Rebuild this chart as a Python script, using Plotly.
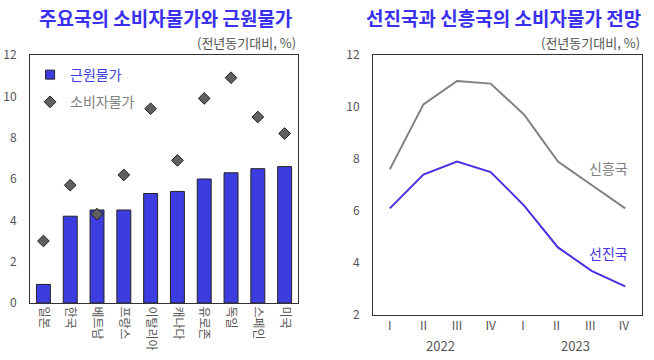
import plotly.graph_objects as go

countries = ["일본", "한국", "베트남", "프랑스", "이탈리아", "캐나다", "유로존", "독일", "스페인", "미국"]
core_cpi = [0.9, 4.2, 4.5, 4.5, 5.3, 5.4, 6.0, 6.3, 6.5, 6.6]
cpi = [3.0, 5.7, 4.3, 6.2, 9.4, 6.9, 9.9, 10.9, 9.0, 8.2]

quarters = ["I", "II", "III", "IV", "I ", "II ", "III ", "IV "]
years = ["2022", "2023"]
emerging = [7.6, 10.1, 11.0, 10.9, 9.7, 7.9, 7.0, 6.1]
advanced = [6.1, 7.4, 7.9, 7.5, 6.2, 4.6, 3.7, 3.1]

FONT = "Noto Sans CJK KR"
BLUE = "#3c3ce0"
TITLE_BLUE = "#3a30ee"
GRAY = "#808080"
LINE_BLUE = "#4a30e0"
TICK = "#555555"

fig = go.Figure()
fig.add_trace(go.Bar(
    x=countries, y=core_cpi, width=0.52,
    marker=dict(color=BLUE, line=dict(color="#222222", width=1)),
    showlegend=False, xaxis="x", yaxis="y"))
fig.add_trace(go.Scatter(
    x=countries, y=cpi, mode="markers",
    marker=dict(symbol="diamond", size=9, color="#606060", line=dict(color="#202020", width=1)),
    showlegend=False, xaxis="x", yaxis="y"))
# legend entries
fig.add_trace(go.Scatter(
    x=[None], y=[None], mode="markers", legendgroup="a",
    marker=dict(symbol="square", size=9, color=BLUE, line=dict(color="#222222", width=1)),
    name="<span style='color:#4040e0'>근원물가</span>", xaxis="x", yaxis="y"))
fig.add_trace(go.Scatter(
    x=[None], y=[None], mode="markers", legendgroup="b",
    marker=dict(symbol="diamond", size=9, color="#606060", line=dict(color="#202020", width=1)),
    name="<span style='color:#808080'>소비자물가</span>", xaxis="x", yaxis="y"))

fig.add_trace(go.Scatter(
    x=quarters, y=emerging, mode="lines", line=dict(color=GRAY, width=2),
    showlegend=False, xaxis="x2", yaxis="y2"))
fig.add_trace(go.Scatter(
    x=quarters, y=advanced, mode="lines", line=dict(color=LINE_BLUE, width=2),
    showlegend=False, xaxis="x2", yaxis="y2"))

axis_common = dict(showline=True, linecolor="#333333", linewidth=1, mirror=True,
                   showgrid=False, zeroline=False, ticks="", automargin=False,
                   tickfont=dict(family=FONT, size=12, color=TICK))

fig.update_layout(
    width=654, height=360,
    margin=dict(l=0, r=0, t=0, b=0),
    paper_bgcolor="white", plot_bgcolor="white",
    font=dict(family=FONT),
    xaxis=dict(domain=[0.0459, 0.4557], anchor="y", tickangle=90, range=[-0.5, 9.5],
               categoryorder="array", categoryarray=countries, **axis_common),
    yaxis=dict(domain=[0.1583, 0.8472], anchor="x", range=[0, 12], dtick=2,
               ticklabelstandoff=10, **axis_common),
    xaxis2=dict(domain=[0.5703, 0.9817], anchor="y2", range=[-0.5, 7.5], **axis_common),
    yaxis2=dict(domain=[0.125, 0.8472], anchor="x2", range=[2, 12], dtick=2,
                ticklabelstandoff=10, **axis_common),
    legend=dict(x=0.046, y=0.836, xanchor="left", yanchor="top", bgcolor="rgba(0,0,0,0)",
                font=dict(family=FONT, size=14), itemsizing="trace", itemwidth=30,
                tracegroupgap=6),
    showlegend=True,
)

ann = [
    dict(text="<b>주요국의 소비자물가와 근원물가</b>", x=165/654, y=1-17/360, font=dict(size=19, color=TITLE_BLUE)),
    dict(text="<b>선진국과 신흥국의 소비자물가 전망</b>", x=503/654, y=1-17/360, font=dict(size=19, color=TITLE_BLUE)),
    dict(text="(전년동기대비, %)", x=298/654, y=1-42/360, xanchor="right", font=dict(size=13, color=TICK)),
    dict(text="(전년동기대비, %)", x=642/654, y=1-42/360, xanchor="right", font=dict(size=13, color=TICK)),
    dict(text="신흥국", x=608/654, y=1-168/360, font=dict(size=14, color=GRAY)),
    dict(text="선진국", x=608/654, y=1-253/360, font=dict(size=14, color=LINE_BLUE)),
    dict(text=years[0], x=441/654, y=1-345/360, font=dict(size=13, color=TICK)),
    dict(text=years[1], x=575/654, y=1-345/360, font=dict(size=13, color=TICK)),
]
for a in ann:
    a.update(xref="paper", yref="paper", showarrow=False)
    a.setdefault("xanchor", "center")
    a["yanchor"] = "middle"
    a["font"]["family"] = FONT
fig.update_layout(annotations=ann)

fig.write_html("out.html",
               config={"displayModeBar": False},
               post_script="document.body.style.margin='0';document.body.style.overflow='hidden';")
